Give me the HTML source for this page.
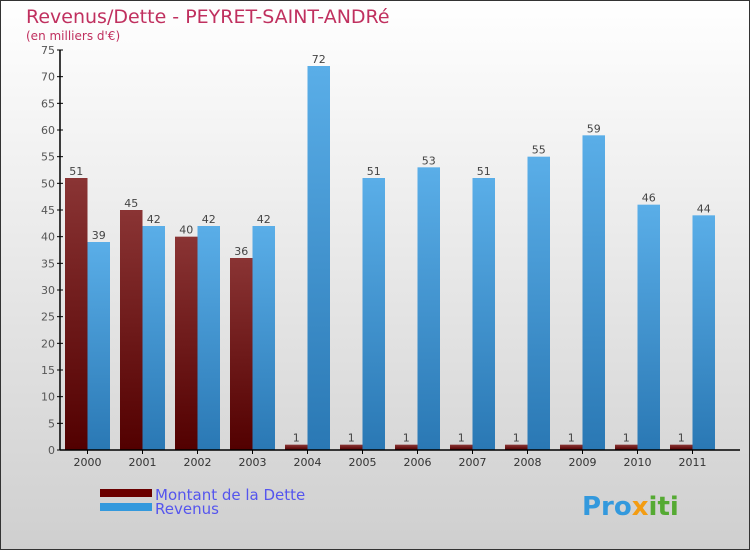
<!DOCTYPE html>
<html><head><meta charset="utf-8"><style>
body{margin:0}
#c{width:750px;height:550px;position:relative;overflow:hidden;font-family:"DejaVu Sans","Liberation Sans",sans-serif}
</style></head><body>
<div id="c">
<svg id="s" width="750" height="550" xmlns="http://www.w3.org/2000/svg">
<defs>
<linearGradient id="bg" x1="0" y1="0" x2="0" y2="1"><stop offset="0" stop-color="#ffffff"/><stop offset="1" stop-color="#cfcfcf"/></linearGradient>
<linearGradient id="gd" x1="0" y1="0" x2="0" y2="1"><stop offset="0" stop-color="#8a3434"/><stop offset="1" stop-color="#520000"/></linearGradient>
<linearGradient id="gr" x1="0" y1="0" x2="0" y2="1"><stop offset="0" stop-color="#5aaee8"/><stop offset="1" stop-color="#2a78b4"/></linearGradient>
</defs>
<rect x="0.5" y="0.5" width="749" height="549" fill="url(#bg)" stroke="#333"/>
<text x="26" y="23" font-size="19" fill="#c0305f">Revenus/Dette - PEYRET-SAINT-ANDRé</text>
<text x="26" y="40" font-size="12" fill="#c0305f">(en milliers d'€)</text>
<g id="grid"></g><g id="bars"></g><g id="axes"></g>
<rect x="100" y="489" width="52" height="8" fill="#6a0000"/>
<rect x="100" y="503" width="52" height="8" fill="#3399dd"/>
<text x="155" y="500" font-size="15" fill="#5555ee">Montant de la Dette</text>
<text x="155" y="514" font-size="15" fill="#5555ee">Revenus</text>
<text x="582" y="515" font-size="26" font-weight="bold" fill="#3399dd">Pro<tspan fill="#f39c12">x</tspan><tspan fill="#55aa33">iti</tspan></text>
</svg>
</div>
<script>
const years=["2000","2001","2002","2003","2004","2005","2006","2007","2008","2009","2010","2011"];
const dette=[51,45,40,36,1,1,1,1,1,1,1,1];
const revenus=[39,42,42,42,72,51,53,51,55,59,46,44];
const yTicks=[0,5,10,15,20,25,30,35,40,45,50,55,60,65,70,75];
const NS="http://www.w3.org/2000/svg";
const x0=60,y0=450,step=55,bw=22.5;
const y=v=>y0-v*400/75;
const cx=i=>87.5+i*step;
function mk(t,a,p){const e=document.createElementNS(NS,t);for(const k in a)e.setAttribute(k,a[k]);p.appendChild(e);return e;}
const bars=document.getElementById('bars'),axes=document.getElementById('axes');
years.forEach((yr,i)=>{
  const d=mk('rect',{x:cx(i)-bw,y:y(dette[i]),width:bw,height:y0-y(dette[i]),fill:'url(#gd)'},bars);
  
  
  const r=mk('rect',{x:cx(i),y:y(revenus[i]),width:bw,height:y0-y(revenus[i]),fill:'url(#gr)'},bars);
  
  
  const t1=mk('text',{x:cx(i)-bw/2,y:y(dette[i])-3,'font-size':11,fill:'#444','text-anchor':'middle'},bars);t1.textContent=dette[i];
  
  
  const t2=mk('text',{x:cx(i)+bw/2,y:y(revenus[i])-3,'font-size':11,fill:'#444','text-anchor':'middle'},bars);t2.textContent=revenus[i];
  
  
  const xl=mk('text',{x:cx(i),y:466,'font-size':11,fill:'#333','text-anchor':'middle'},axes);xl.textContent=yr;
  
  
  mk('line',{x1:cx(i),x2:cx(i),y1:y0,y2:y0+4,stroke:'#000'},axes);
});
yTicks.forEach(v=>{
  mk('line',{x1:x0-3,x2:x0+3,y1:y(v),y2:y(v),stroke:'#000'},axes);
  const t=mk('text',{x:x0-5,y:y(v)+4,'font-size':11,fill:'#555','text-anchor':'end'},axes);t.textContent=v;
  
  
});
const ya=mk('line',{x1:x0,x2:x0,y1:y(75),y2:y0,stroke:'#000','stroke-width':1.5},axes);


const xa=mk('line',{x1:x0,x2:740,y1:y0,y2:y0,stroke:'#000','stroke-width':1.5},axes);


</script>
</body></html>
